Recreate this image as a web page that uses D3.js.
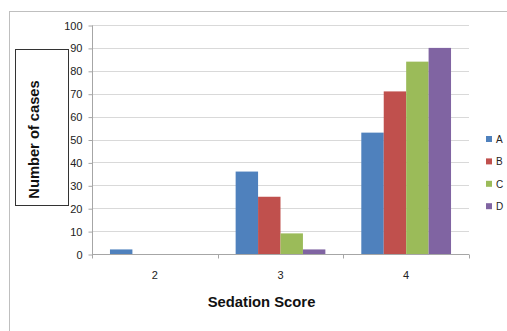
<!DOCTYPE html>
<html><head><meta charset="utf-8">
<script src="https://cdn.jsdelivr.net/npm/d3@7"></script>
<style>body{margin:0;background:#fff}svg{display:block;font-family:"Liberation Sans",Arial,sans-serif}</style>
</head><body>
<script>
const categories = ["2", "3", "4"];
const seriesNames = ["A", "B", "C", "D"];
const A = [2, 36, 53];
const B = [0, 25, 71];
const C = [0, 9, 84];
const D = [0, 2, 90];
const yTicks = [0,10,20,30,40,50,60,70,80,90,100];
const colors = ["#4F81BD", "#C0504D", "#9BBB59", "#8064A2"];
const seriesValues = [A, B, C, D];

(function () {
const W = 507, H = 331;
const svg = d3.select("body").append("svg").attr("width", W).attr("height", H);

// outer chart frame
svg.append("rect").attr("x", 9.5).attr("y", 11.5).attr("width", 520).attr("height", 340)
  .attr("fill", "#fff").attr("stroke", "#BFBFBF").attr("stroke-width", 1);

const pL = 92, pR = 469, pT = 25, pB = 254;
const x0 = d3.scaleBand().domain(categories).range([pL, pR]).padding(0);
const bw = x0.bandwidth();
const gap = bw * 0.143;
const x1 = d3.scaleBand().domain(seriesNames).range([gap, bw - gap]).padding(0);
const y = d3.scaleLinear().domain([0, 100]).range([pB, pT]);

// gridlines
svg.append("g").selectAll("line").data(yTicks.filter(t => t > 0)).join("line")
  .attr("x1", pL).attr("x2", pR)
  .attr("y1", d => Math.round(y(d)) + 0.5).attr("y2", d => Math.round(y(d)) + 0.5)
  .attr("stroke", "#D9D9D9").attr("stroke-width", 1);

// y axis
const yAxis = svg.append("g").attr("transform", `translate(${pL + 0.5},0.5)`)
  .call(d3.axisLeft(y).tickValues(yTicks).tickSize(4).tickPadding(6));
yAxis.select(".domain").attr("stroke", "#A6A6A6").attr("d", `M0,${pT}V${pB}`);
yAxis.selectAll(".tick line").attr("stroke", "#A6A6A6");
yAxis.selectAll(".tick text").attr("font-size", 11).attr("fill", "#222")
  .attr("font-family", "Liberation Sans, Arial, sans-serif");

// bars
const groups = svg.append("g").selectAll("g").data(categories).join("g")
  .attr("transform", d => `translate(${x0(d)},0)`);
groups.selectAll("rect").data((c, i) => seriesNames.map((s, j) => ({s, v: seriesValues[j][i], j})))
  .join("rect")
  .attr("x", d => x1(d.s)).attr("width", x1.bandwidth())
  .attr("y", d => y(d.v)).attr("height", d => y(0) - y(d.v))
  .attr("fill", d => colors[d.j]);

// x axis
const xAxisG = svg.append("g").attr("transform", `translate(0,${pB + 0.5})`);
xAxisG.append("line").attr("x1", pL).attr("x2", pR).attr("stroke", "#A6A6A6");
const bounds = [pL, ...categories.map(c => x0(c) + bw)];
xAxisG.selectAll("line.tk").data(bounds).join("line").attr("class", "tk")
  .attr("x1", d => Math.round(d) + 0.5).attr("x2", d => Math.round(d) + 0.5)
  .attr("y1", 0).attr("y2", 4).attr("stroke", "#A6A6A6");
xAxisG.selectAll("text").data(categories).join("text")
  .attr("x", d => x0(d) + bw / 2).attr("y", 24)
  .attr("text-anchor", "middle").attr("font-size", 11).attr("fill", "#222").text(d => d);

// x title
svg.append("text").attr("x", 261.5).attr("y", 307).attr("text-anchor", "middle")
  .attr("font-size", 14.8).attr("font-weight", "bold").attr("fill", "#111").text("Sedation Score");

// y title box
svg.append("rect").attr("x", 15.5).attr("y", 49.5).attr("width", 53).attr("height", 156)
  .attr("fill", "#fff").attr("stroke", "#333").attr("stroke-width", 1);
svg.append("text").attr("transform", "translate(38.5,139.5) rotate(-90)").attr("text-anchor", "middle")
  .attr("font-size", 14.7).attr("font-weight", "bold").attr("fill", "#111").text("Number of cases");

// legend
const lg = svg.append("g").selectAll("g").data(seriesNames).join("g")
  .attr("transform", (d, i) => `translate(486,${139 + i * 22.4})`);
lg.append("rect").attr("x", 0).attr("y", -3).attr("width", 6).attr("height", 6).attr("fill", (d, i) => colors[i]);
lg.append("text").attr("x", 10).attr("y", 4).attr("font-size", 10).attr("fill", "#222").text(d => d);
})();
</script>
</body></html>
